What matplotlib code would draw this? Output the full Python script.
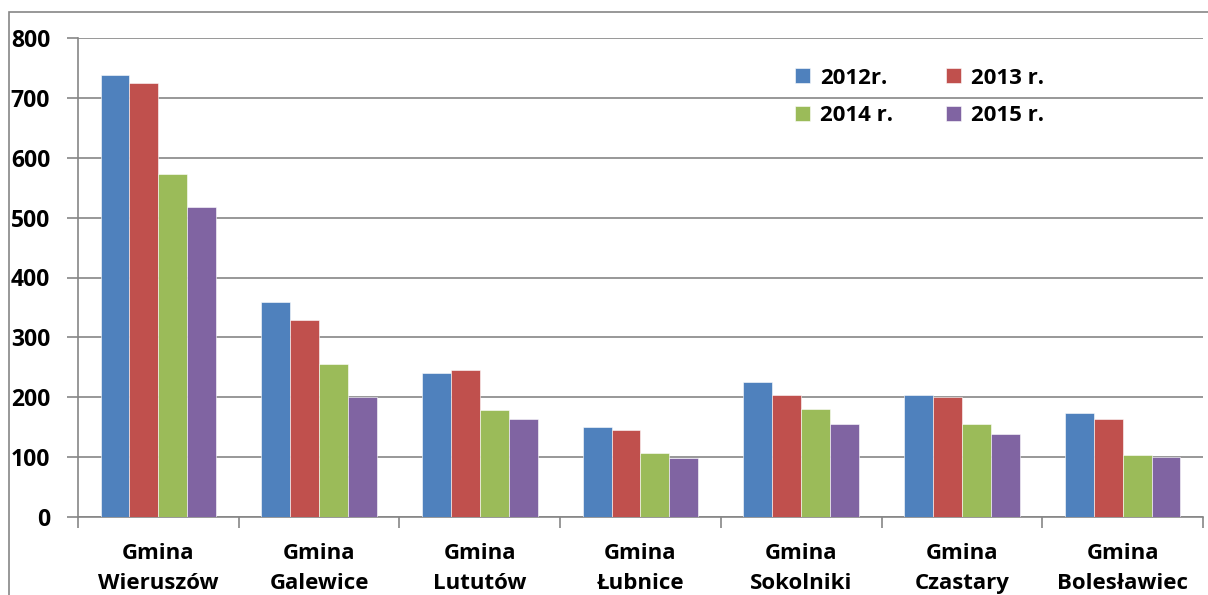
import numpy as np
import matplotlib.pyplot as plt
from matplotlib.patches import Rectangle

# data
gminy = ["Gmina\nWieruszów", "Gmina\nGalewice", "Gmina\nLututów", "Gmina\nŁubnice",
         "Gmina\nSokolniki", "Gmina\nCzastary", "Gmina\nBolesławiec"]
lata = ["2012r.", "2013 r.", "2014 r.", "2015 r."]
v2012 = [738, 359, 240, 151, 225, 203, 174]
v2013 = [725, 329, 245, 146, 203, 201, 163]
v2014 = [573, 255, 178, 107, 180, 156, 104]
v2015 = [518, 200, 164, 99, 156, 138, 100]
kolory = ["#4F81BD", "#C0504D", "#9BBB59", "#8064A2"]

plt.rcParams['font.family'] = ['Open Sans', 'DejaVu Sans']

fig = plt.figure(figsize=(12.08, 5.95), dpi=100)
ax = fig.add_axes([78 / 1208, 78 / 595, (1203 - 78) / 1208, (517 - 38) / 595])

# outer chart border
fig.patches.append(Rectangle((9 / 1208, -0.1), 1.2, (595 - 12) / 595 + 0.1,
                             transform=fig.transFigure, fill=False,
                             edgecolor="#868686", linewidth=1.2))

x = np.arange(len(gminy))
w = 0.18
bars = []
for i, (vals, lab) in enumerate(zip([v2012, v2013, v2014, v2015], lata)):
    b = ax.bar(x + (i - 1.5) * w, vals, w, color=kolory[i], label=lab,
               edgecolor="white", linewidth=0.4, zorder=3)
    bars.append(b)

ax.set_xlim(-0.5, len(gminy) - 0.5)
ax.set_ylim(0, 800)
ax.set_yticks(range(0, 801, 100))
ax.yaxis.grid(True, color="#868686", linewidth=1.2, zorder=0)

ax.set_xticks(x)
ax.set_xticklabels(gminy, fontsize=16, fontweight="bold", linespacing=1.55)
ax.set_xticks(np.arange(-0.5, len(gminy)), minor=True)
ax.tick_params(axis="x", which="major", length=0, pad=19)
ax.tick_params(axis="x", which="minor", length=8, width=1.2, color="#868686")
ax.tick_params(axis="y", length=8, width=1.2, color="#868686", labelsize=16.5, pad=12)
for t in ax.get_yticklabels():
    t.set_fontweight("bold")

for s in ["top", "right"]:
    ax.spines[s].set_visible(False)
for s in ["left", "bottom"]:
    ax.spines[s].set_color("#868686")
    ax.spines[s].set_linewidth(1.2)

# legend filled row by row like the original
order = [0, 2, 1, 3]
leg = ax.legend([bars[k] for k in order], [lata[k] for k in order], ncol=2,
                loc="upper left", bbox_to_anchor=(0.62, 0.98), frameon=False,
                prop={"weight": "bold", "size": 16}, handlelength=0.65, handleheight=0.65,
                columnspacing=2.4, labelspacing=0.75, handletextpad=0.45)

plt.savefig("out.png", dpi=100)
